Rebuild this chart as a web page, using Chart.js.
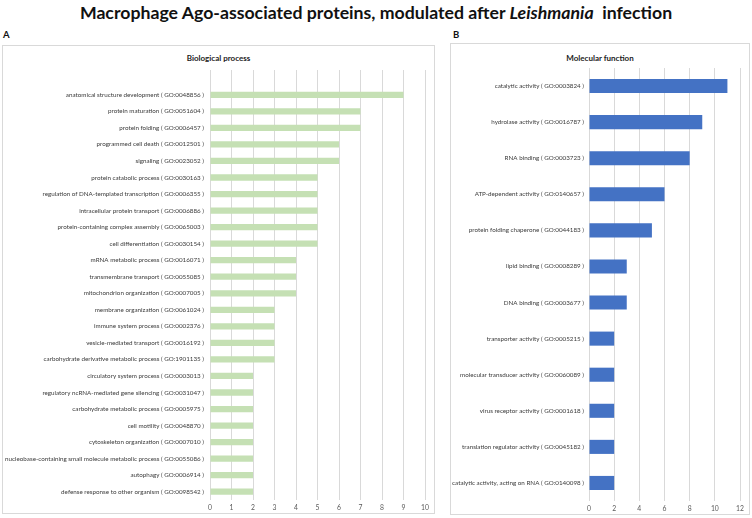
<!DOCTYPE html>
<html>
<head>
<meta charset="utf-8">
<script src="https://cdn.jsdelivr.net/npm/chart.js@4.4.1/dist/chart.umd.min.js"></script>
<style>
    body { margin: 0; background: #fff; font-family: Lato, "Liberation Sans", sans-serif; }
    #page { position: relative; width: 752px; height: 518px; overflow: hidden; }
    .title { position: absolute; top: 2px; left: 0; width: 752px; text-align: center; font-weight: bold; font-size: 17.7px; color: #111; }
    .tag { position: absolute; top: 29px; font-weight: bold; font-size: 9.5px; color: #111; }
    .panel { position: absolute; box-sizing: border-box; border: 1px solid #d9d9d9; }
    .panel-title { position: absolute; top: 7px; left: 0; width: 100%; text-align: center; font-weight: bold; font-size: 8px; color: #222; }
    .panel canvas { position: absolute; left: 0; top: 0; }
</style>
</head>
<body>
<div id="page">
    <div class="title">Macrophage Ago-associated proteins, modulated after <i>Leishmania</i>&nbsp; infection</div>
    <div class="tag" style="left:3px">A</div>
    <div class="tag" style="left:453px">B</div>
    <div class="panel" id="panelA" style="left:2px; top:45px; width:433px; height:469px;">
        <div class="panel-title">Biological process</div>
        <canvas id="chartA" width="431" height="467"></canvas>
    </div>
    <div class="panel" id="panelB" style="left:450px; top:43px; width:300px; height:472px;">
        <div class="panel-title" style="top:9px">Molecular function</div>
        <canvas id="chartB" width="298" height="470"></canvas>
    </div>
</div>
<script>
// Biological process (panel A)
const bpLabels = [
    'anatomical structure development ( GO:0048856 )',
    'protein maturation ( GO:0051604 )',
    'protein folding ( GO:0006457 )',
    'programmed cell death ( GO:0012501 )',
    'signaling ( GO:0023052 )',
    'protein catabolic process ( GO:0030163 )',
    'regulation of DNA-templated transcription ( GO:0006355 )',
    'intracellular protein transport ( GO:0006886 )',
    'protein-containing complex assembly ( GO:0065003 )',
    'cell differentiation ( GO:0030154 )',
    'mRNA metabolic process ( GO:0016071 )',
    'transmembrane transport ( GO:0055085 )',
    'mitochondrion organization ( GO:0007005 )',
    'membrane organization ( GO:0061024 )',
    'immune system process ( GO:0002376 )',
    'vesicle-mediated transport ( GO:0016192 )',
    'carbohydrate derivative metabolic process ( GO:1901135 )',
    'circulatory system process ( GO:0003013 )',
    'regulatory ncRNA-mediated gene silencing ( GO:0031047 )',
    'carbohydrate metabolic process ( GO:0005975 )',
    'cell motility ( GO:0048870 )',
    'cytoskeleton organization ( GO:0007010 )',
    'nucleobase-containing small molecule metabolic process ( GO:0055086 )',
    'autophagy ( GO:0006914 )',
    'defense response to other organism ( GO:0098542 )'
];
const bpValues = [9, 7, 7, 6, 6, 5, 5, 5, 5, 5, 4, 4, 4, 3, 3, 3, 3, 2, 2, 2, 2, 2, 2, 2, 2];
const bpTicks = [0, 1, 2, 3, 4, 5, 6, 7, 8, 9, 10];

// Molecular function (panel B)
const mfLabels = [
    'catalytic activity ( GO:0003824 )',
    'hydrolase activity ( GO:0016787 )',
    'RNA binding ( GO:0003723 )',
    'ATP-dependent activity ( GO:0140657 )',
    'protein folding chaperone ( GO:0044183 )',
    'lipid binding ( GO:0008289 )',
    'DNA binding ( GO:0003677 )',
    'transporter activity ( GO:0005215 )',
    'molecular transducer activity ( GO:0060089 )',
    'virus receptor activity ( GO:0001618 )',
    'translation regulator activity ( GO:0045182 )',
    'catalytic activity, acting on RNA ( GO:0140098 )'
];
const mfValues = [11, 9, 8, 6, 5, 3, 3, 2, 2, 2, 2, 2];
const mfTicks = [0, 2, 4, 6, 8, 10, 12];

const FONT = 'Lato, "Liberation Sans", sans-serif';

function makeChart(id, labels, values, ticks, opts) {
    const step = ticks[1] - ticks[0];
    return new Chart(document.getElementById(id), {
        type: 'bar',
        data: {
            labels: labels,
            datasets: [{
                data: values,
                backgroundColor: opts.color,
                borderWidth: 0,
                barPercentage: opts.barPct,
                categoryPercentage: 1
            }]
        },
        options: {
            indexAxis: 'y',
            responsive: false,
            animation: false,
            devicePixelRatio: 1,
            layout: {
                padding: { top: opts.top, right: opts.right, left: 0, bottom: 0 }
            },
            plugins: {
                legend: { display: false },
                tooltip: { enabled: false }
            },
            scales: {
                x: {
                    min: ticks[0],
                    max: ticks[ticks.length - 1],
                    border: { display: false },
                    grid: { color: '#d9d9d9', drawTicks: false, lineWidth: 1 },
                    ticks: {
                        stepSize: step,
                        padding: 4,
                        color: '#595959',
                        font: { family: FONT, size: 6.8 }
                    },
                    afterFit: s => { s.height = opts.axisH; }
                },
                y: {
                    border: { display: false },
                    grid: { display: false, drawTicks: false },
                    ticks: {
                        autoSkip: false,
                        padding: opts.labelPad,
                        color: '#3a3a3a',
                        font: { family: FONT, size: 6.25 }
                    },
                    afterFit: s => { s.width = opts.left; }
                }
            }
        }
    });
}

// panel A: blank first row leaves the empty band above the first bar, as in the original
makeChart('chartA', [''].concat(bpLabels), [null].concat(bpValues), bpTicks, {
    color: '#c5e0b4', barPct: 0.38, top: 24, right: 9, left: 207, axisH: 13, labelPad: 6
});
makeChart('chartB', mfLabels, mfValues, mfTicks, {
    color: '#4472c4', barPct: 0.39, top: 24, right: 9, left: 138, axisH: 13, labelPad: 5
});
</script>
</body>
</html>
